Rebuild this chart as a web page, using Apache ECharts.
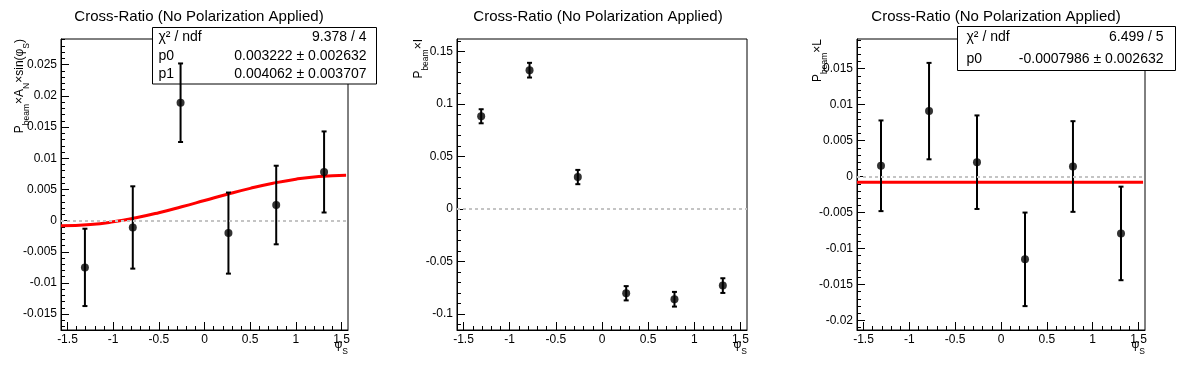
<!DOCTYPE html>
<html><head><meta charset="utf-8">
<script src="https://cdn.jsdelivr.net/npm/echarts@6/dist/echarts.min.js"></script>
<style>html,body{margin:0;padding:0;background:#fff}#c{width:1196px;height:372px}</style>
</head><body><div id="c"></div>
<script>
// ---------------- data ----------------
const titleText = 'Cross-Ratio (No Polarization Applied)';
const phiS = [-1.309, -0.785, -0.262, 0.262, 0.785, 1.309];

const anVal = [-0.0075, -0.0011, 0.0189, -0.0020, 0.0025, 0.0078];
const anErr = [0.0062, 0.0066, 0.0063, 0.0065, 0.0063, 0.0065];

const iVal = [0.0884, 0.1323, 0.0305, -0.0802, -0.0859, -0.0729];
const iErr = [0.0067, 0.0070, 0.0068, 0.0068, 0.0070, 0.0070];

const lVal = [0.0015, 0.0091, 0.0020, -0.0115, 0.0014, -0.0079];
const lErr = [0.0063, 0.0067, 0.0065, 0.0065, 0.0063, 0.0065];

// fit curves
const fitAnX = [-1.5708, -1.25, -1.0, -0.75, -0.5, -0.25, 0, 0.25, 0.5, 0.75, 1.0, 1.25, 1.55];
const fitAnY = [-0.00084, -0.00063, -0.00020, 0.00045, 0.00127, 0.00222, 0.00322, 0.00423, 0.00517, 0.00599, 0.00664, 0.00708, 0.00728];
const fitLX = [-1.5708, 1.55];
const fitLY = [-0.0007986, -0.0007986];

const xTicks = [-1.5, -1, -0.5, 0, 0.5, 1, 1.5];
const yTicksAN = [-0.015, -0.01, -0.005, 0, 0.005, 0.01, 0.015, 0.02, 0.025];
const yTicksI = [-0.1, -0.05, 0, 0.05, 0.1, 0.15];
const yTicksL = [-0.02, -0.015, -0.01, -0.005, 0, 0.005, 0.01, 0.015];

const yNames = [
  '{m|P}{s|beam}{m|×A}{s|N}{m|×sin(φ}{s|S}{m|)}',
  '{m|P}{s|beam}{m|×I}',
  '{m|P}{s|beam}{m|×L}'
];
const xName = '{m|φ}{s|S}';

const stats1 = [['χ² / ndf', '9.378 / 4'], ['p0', '0.003222 ± 0.002632'], ['p1', '0.004062 ± 0.003707']];
const stats3 = [['χ² / ndf', '6.499 / 5'], ['p0', '-0.0007986 ± 0.002632']];

// ---------------- layout ----------------
const FONT = '"Liberation Sans", Arial, Helvetica, sans-serif';
const XMIN = -Math.PI / 2, XMAX = Math.PI / 2;
const panels = [
  {left: 61, right: 348, cx: 199, ymin: -0.01754, ymax: 0.02912, yt: yTicksAN, vals: anVal, errs: anErr, fitX: fitAnX, fitY: fitAnY, pad: 30},
  {left: 457, right: 747, cx: 598, ymin: -0.1152, ymax: 0.1620, yt: yTicksI, vals: iVal, errs: iErr, fitX: null, fitY: null, pad: 27},
  {left: 857, right: 1145, cx: 996, ymin: -0.02132, ymax: 0.01912, yt: yTicksL, vals: lVal, errs: lErr, fitX: fitLX, fitY: fitLY, pad: 28}
];
const TOP = 39, BOTTOM = 330;

function minorTicks(majors, min, max) {
  const step = (majors[1] - majors[0]) / 5;
  let v = majors[0];
  while (v - step >= min - 1e-12) v -= step;
  const out = [];
  for (; v <= max + 1e-12; v += step) out.push(Math.round(v / step) * step);
  return out;
}
const fmt = v => String(parseFloat(Number(v).toFixed(6)));

const richSub = {
  m: {fontSize: 12, lineHeight: 14, verticalAlign: 'top', fontFamily: FONT, color: '#000'},
  s: {fontSize: 8.5, lineHeight: 17, verticalAlign: 'bottom', fontFamily: FONT, color: '#000'}
};

const grid = [], xAxis = [], yAxis = [], series = [], title = [];
panels.forEach((p, i) => {
  grid.push({left: p.left, top: TOP, width: p.right - p.left, height: BOTTOM - TOP,
    show: true, borderColor: '#000', borderWidth: 1, backgroundColor: 'transparent', containLabel: false});
  title.push({text: titleText, left: p.cx, top: 9, textAlign: 'center', padding: 0,
    textStyle: {fontFamily: FONT, fontSize: 15, fontWeight: 'normal', color: '#000'}});
  // main x
  xAxis.push({gridIndex: i, type: 'value', min: XMIN, max: XMAX, position: 'bottom',
    axisLine: {show: true, onZero: false, lineStyle: {color: '#000', width: 1}},
    axisTick: {show: true, inside: true, length: 8, customValues: xTicks, lineStyle: {color: '#000'}},
    axisLabel: {show: true, customValues: xTicks, formatter: fmt, color: '#000', fontSize: 12, fontFamily: FONT, margin: 4},
    splitLine: {show: false},
    name: xName, nameLocation: 'end', nameGap: 0, nameMoveOverlap: false,
    nameTextStyle: {align: 'right', verticalAlign: 'top', padding: [9, 0, 0, 0], rich: richSub}
  });
  // minor x
  xAxis.push({gridIndex: i, type: 'value', min: XMIN, max: XMAX, position: 'bottom',
    axisLine: {show: false, onZero: false},
    axisTick: {show: true, inside: true, length: 4, customValues: minorTicks(xTicks, XMIN, XMAX), lineStyle: {color: '#000'}},
    axisLabel: {show: false}, splitLine: {show: false}});
  // main y
  yAxis.push({gridIndex: i, type: 'value', min: p.ymin, max: p.ymax, position: 'left',
    axisLine: {show: true, onZero: false, lineStyle: {color: '#000', width: 1}},
    axisTick: {show: true, inside: true, length: 8, customValues: p.yt, lineStyle: {color: '#000'}},
    axisLabel: {show: true, customValues: p.yt, formatter: fmt, color: '#000', fontSize: 12, fontFamily: FONT, margin: 4},
    splitLine: {show: false},
    name: yNames[i], nameLocation: 'end', nameGap: 0, nameRotate: 90, nameMoveOverlap: false,
    nameTextStyle: {align: 'right', verticalAlign: 'bottom', padding: [0, 0, p.pad, 0], rich: richSub}
  });
  // minor y
  yAxis.push({gridIndex: i, type: 'value', min: p.ymin, max: p.ymax, position: 'left',
    axisLine: {show: false, onZero: false},
    axisTick: {show: true, inside: true, length: 4, customValues: minorTicks(p.yt, p.ymin, p.ymax), lineStyle: {color: '#000'}},
    axisLabel: {show: false}, splitLine: {show: false}});

  const xi = 2 * i, yi = 2 * i;
  // zero reference line
  series.push({type: 'line', xAxisIndex: xi, yAxisIndex: yi, data: [], z: 1, silent: true,
    markLine: {silent: true, symbol: 'none', animation: false, label: {show: false},
      lineStyle: {color: '#c4c4c4', type: [3, 3], width: 2}, data: [{yAxis: 0}]}});
  // fit
  if (p.fitX) {
    series.push({type: 'line', xAxisIndex: xi, yAxisIndex: yi, z: 3, smooth: p.fitX.length > 2, showSymbol: false,
      silent: true, animation: false,
      lineStyle: {color: '#ff0000', width: 3}, data: p.fitX.map((x, k) => [x, p.fitY[k]])});
  }
  // error bars
  series.push({type: 'custom', xAxisIndex: xi, yAxisIndex: yi, z: 4, animation: false, silent: true,
    data: phiS.map((x, k) => [x, p.vals[k] - p.errs[k], p.vals[k] + p.errs[k]]),
    renderItem: (params, api) => {
      const lo = api.coord([api.value(0), api.value(1)]);
      const hi = api.coord([api.value(0), api.value(2)]);
      const w = 2.5, st = {stroke: '#000', lineWidth: 2};
      return {type: 'group', children: [
        {type: 'line', shape: {x1: lo[0], y1: lo[1], x2: hi[0], y2: hi[1]}, style: st},
        {type: 'line', shape: {x1: lo[0] - w, y1: lo[1], x2: lo[0] + w, y2: lo[1]}, style: st},
        {type: 'line', shape: {x1: hi[0] - w, y1: hi[1], x2: hi[0] + w, y2: hi[1]}, style: st}
      ]};
    }});
  // points
  series.push({type: 'scatter', xAxisIndex: xi, yAxisIndex: yi, z: 5, symbol: 'circle', symbolSize: 8,
    animation: false, itemStyle: {color: '#000'}, data: phiS.map((x, k) => [x, p.vals[k]])});
});

function statsBox(x, y, w, h, rows, padL, padR) {
  const rh = h / rows.length;
  const children = [{type: 'rect', shape: {x: 0, y: 0, width: w, height: h}, style: {fill: '#fff', stroke: '#000', lineWidth: 1}}];
  rows.forEach((r, k) => {
    const cy = rh * (k + 0.5);
    children.push({type: 'text', x: padL, y: cy, style: {text: r[0], font: '14px ' + FONT, fill: '#000', align: 'left', verticalAlign: 'middle'}});
    children.push({type: 'text', x: w - padR, y: cy, style: {text: r[1], font: '14px ' + FONT, fill: '#000', align: 'right', verticalAlign: 'middle'}});
  });
  return {type: 'group', x: x, y: y, z: 100, children};
}

const option = {
  animation: false,
  backgroundColor: '#fff',
  title, grid, xAxis, yAxis, series,
  graphic: [
    statsBox(152.5, 27.5, 224, 56.5, stats1, 6, 10),
    statsBox(957.5, 26.5, 218, 44, stats3, 9, 12)
  ]
};
const chart = echarts.init(document.getElementById('c'), null, {renderer: 'canvas'});
chart.setOption(option);
</script></body></html>
